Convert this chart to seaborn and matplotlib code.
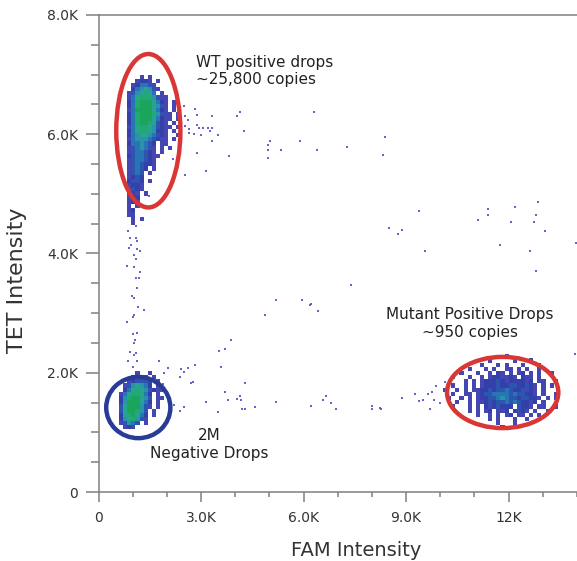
import numpy as np
import pandas as pd
import matplotlib
matplotlib.use("Agg")
import matplotlib.pyplot as plt
from matplotlib.colors import ListedColormap
from matplotlib.patches import Ellipse
from matplotlib.ticker import MultipleLocator, FixedLocator
import seaborn as sns

# droplet density, binned on a FAM x TET grid
FAM_BIN = 120
TET_BIN = 70

# density level per cell (0 = '.', 8 = densest), rows go top -> bottom
wt_fam0, wt_tet0 = 900, 6965
wt_density = [
    "...1.1........",
    "..1221.1......",
    ".124431.......",
    ".2456531......",
    "1356764.1.....",
    "1467775311....",
    "2478886421.1..",
    "2478886531.1..",
    "1488886421.1..",
    "24788875311.1.",
    "24788864211.1.",
    "2478876321.1..",
    "14677653211.1.",
    "2467765221.1..",
    "2456654321..1.",
    "1455543211.1..",
    "2445432.11....",
    "1345431.1.1...",
    "1344321.1.....",
    "23443211......",
    "1344321.......",
    "1343221.......",
    "13432.1.......",
    "1343.1........",
    "1232..........",
    "2332.1........",
    "1221..........",
    "1321..........",
    "121.1.........",
    "122...........",
    "121...........",
    "1.1...........",
    "12............",
    "11............",
    ".1.1..........",
    ".1............",
]

neg_fam0, neg_tet0 = 660, 1995
neg_density = [
    "....1..1...",
    "...1221.1..",
    "..123332.1.",
    ".1356542.1.",
    ".2467653211",
    "14677642.1.",
    "25788653.11",
    "25888642.1.",
    "36888531.1.",
    "3688753.1..",
    "2678642.1..",
    "2567531....",
    "13543.1....",
    ".121.......",
]

mut_fam0, mut_tet0 = 10140, 2345
mut_density = [
    ".............................",
    "...............1.............",
    "...........1.....1...1.......",
    ".........1...1.1...1...1.....",
    "......1...1.1..11.1.1..1.....",
    "....1...1..1.21.1.12.1.1..1..",
    "..1...1..1.1221121.211.1.....",
    ".....1.1.1222321222212.11..1.",
    "..1..1.1.12223223322321.1.1..",
    "1..1.1.1122323343223121.1....",
    "..1..11.123344443433221.1..1.",
    ".1..1.1.1223345433233221.1.1.",
    "...1..1.112323343432212.1....",
    "..1...1.1.2123222.3221.11..1.",
    "......1.1.12.112.2121.1..1...",
    "........1..1.1.12.11.1.1.....",
    "...........1.1...1..1........",
    ".............1...1...........",
    "..............1..............",
]

# single stray drops
stray_fam = [
    2510, 2810, 2540, 2610, 2540, 2660, 2870, 2950, 3050, 3200, 3310, 2870, 3310,
    2660, 2780, 3000, 3270, 3490, 3310, 2870, 3810, 2540, 3150, 4050, 4150, 4250,
    5030, 4970, 4970, 5350, 4970, 5910, 6300, 6390, 7270, 2170, 1490,
    9390, 11410, 11410, 12190, 12850, 12800, 11090, 12080, 12730, 13060, 8500,
    8770, 8890, 9540, 11750, 12630, 13960, 12800, 7400, 5200, 5950, 6230, 6180,
    6410, 4860, 13950, 8380, 8330,
    1100, 870, 930, 1100, 1140, 950, 900, 1140, 1220, 1050, 1100, 1050, 830, 1220,
    1100, 1190, 1140, 970, 1050, 1170, 1320, 1050, 1000, 830, 1140, 1000, 1070,
    1050, 930, 1100, 1030, 850, 1140, 1000,
    1780, 2020, 1930, 2420, 2490, 2370, 1880, 1980, 2220, 2490, 2610, 2810, 2760,
    3150, 3490, 3880, 3540, 3710, 3590, 2710, 4300, 3700, 4130, 4160, 4050, 3780,
    4590, 4300, 4210, 2390, 5180, 6230, 6570, 6670, 6790, 6960, 8000, 8000, 8230,
    8280, 8880, 9270, 9390, 9500, 9630, 9770, 9880, 9820, 9990, 9700, 10140,
]
stray_tet = [
    6480, 6420, 6310, 6240, 6130, 6080, 6150, 6100, 6100, 6100, 6110, 6330, 6300,
    6020, 6010, 5980, 6050, 5980, 5890, 5690, 5640, 5320, 5380, 6300, 6370, 6050,
    5890, 5820, 5730, 5730, 5610, 5890, 6370, 5730, 5790, 5580, 4960,
    4710, 4750, 4650, 4780, 4870, 4650, 4560, 4530, 4530, 4370, 4430,
    4330, 4390, 4050, 4140, 4050, 4170, 3700, 3480, 3220, 3220, 3160, 3130,
    3040, 2970, 2310, 5950, 5660,
    4460, 4370, 4260, 4260, 4210, 4150, 4090, 4070, 4050, 3980, 3900, 3770, 3790, 3690,
    3590, 3590, 3420, 3280, 3260, 3110, 3060, 2970, 2930, 2850, 2660, 2650, 2550,
    2500, 2350, 2330, 2290, 2200, 2190, 2100,
    2200, 2080, 1990, 2060, 2020, 1930, 1810, 1630, 1460, 1430, 2080, 2130, 1850,
    1510, 1350, 2550, 2370, 2400, 2090, 1830, 1830, 1670, 1610, 1540, 1560, 1540,
    1420, 1390, 1390, 1360, 1510, 1450, 1540, 1610, 1490, 1390, 1450, 1390, 1410,
    1390, 1580, 1640, 1530, 1540, 1640, 1670, 1770, 1540, 1490, 1390, 1840,
]

x_ticks = [0, 3000, 6000, 9000, 12000]
x_labels = ["0", "3.0K", "6.0K", "9.0K", "12K"]
y_ticks = [0, 2000, 4000, 6000, 8000]
y_labels = ["0", "2.0K", "4.0K", "6.0K", "8.0K"]

# gating ellipses drawn on the figure
ring_fam = [1458, 1164, 11826]
ring_tet = [6059, 1416, 1669]
ring_w = [1877, 1877, 3256]
ring_h = [2573, 1026, 1194]
ring_col = ["#d93636", "#283c96", "#d93636"]

level_colors = ["#4446b2", "#3340aa", "#2c55b0", "#2874b4",
                "#2a93ac", "#27a390", "#21a874", "#1aa45c"]


def grid_cells(rows, fam0, tet0):
    width = max(len(r) for r in rows)
    out = []
    for r, row in enumerate(rows):
        for c, ch in enumerate(row.ljust(width, ".")):
            if ch != ".":
                out.append((fam0 + c * FAM_BIN, tet0 - r * TET_BIN, int(ch)))
    return out


cells = pd.DataFrame(
    grid_cells(wt_density, wt_fam0, wt_tet0)
    + grid_cells(neg_density, neg_fam0, neg_tet0)
    + grid_cells(mut_density, mut_fam0, mut_tet0),
    columns=["FAM", "TET", "level"],
)

sns.set_style("ticks")

fig = plt.figure(figsize=(5.77, 5.61), dpi=100)
ax = fig.add_axes([98.5 / 577, 69 / 561, 478.5 / 577, 477 / 561])

x_edges = np.arange(0, 14000 + FAM_BIN, FAM_BIN)
y_edges = np.arange(0, 8000 + 2 * TET_BIN, TET_BIN)
sns.histplot(data=cells, x="FAM", y="TET", weights="level",
             bins=(x_edges, y_edges), cmap=ListedColormap(level_colors),
             vmin=0.5, vmax=8.5, ax=ax)

sns.scatterplot(x=stray_fam, y=stray_tet, marker="s", s=3, color="#4b4bbd",
                linewidth=0, alpha=0.85, ax=ax)

for fx, ty, w, h, col in zip(ring_fam, ring_tet, ring_w, ring_h, ring_col):
    ax.add_patch(Ellipse((fx, ty), w, h, fill=False, edgecolor=col, lw=3.2))

ax.set_xlim(0, 14000)
ax.set_ylim(0, 8000)

ax.xaxis.set_major_locator(FixedLocator(x_ticks))
ax.set_xticklabels(x_labels)
ax.xaxis.set_minor_locator(MultipleLocator(1000))
ax.yaxis.set_major_locator(FixedLocator(y_ticks))
ax.set_yticklabels(y_labels)
ax.yaxis.set_minor_locator(MultipleLocator(500))

grey = "#808080"
for side in ["left", "bottom", "top"]:
    ax.spines[side].set_color(grey)
    ax.spines[side].set_linewidth(1.1)
ax.spines["right"].set_visible(False)

ax.tick_params(axis="y", which="major", length=9.5, width=1.1, color=grey,
               labelsize=10, labelcolor="#333333", pad=5)
ax.tick_params(axis="y", which="minor", length=6, width=1.1, color=grey)
ax.tick_params(axis="x", which="major", length=7.5, width=1.1, color=grey,
               labelsize=10, labelcolor="#333333", pad=6)
ax.tick_params(axis="x", which="minor", length=3.5, width=1.1, color=grey)

ax.set_xlabel("FAM Intensity", fontsize=14, color="#333333")
ax.xaxis.set_label_coords(0.538, -0.103)
ax.set_ylabel("TET Intensity", fontsize=16, color="#333333")
ax.yaxis.set_label_coords(-0.150, 0.444)

txt = dict(fontsize=11, color="#222222", va="baseline")
ax.text(2866, 7132, "WT positive drops", ha="left", **txt)
ax.text(2866, 6841, "\u223c25,800 copies", ha="left", **txt)
ax.text(10867, 2905, "Mutant Positive Drops", ha="center", **txt)
ax.text(10867, 2607, "\u223c950 copies", ha="center", **txt)
ax.text(3253, 870, "2M", ha="center", **txt)
ax.text(3253, 567, "Negative Drops", ha="center", **txt)

fig.savefig("out.png", dpi=100)
